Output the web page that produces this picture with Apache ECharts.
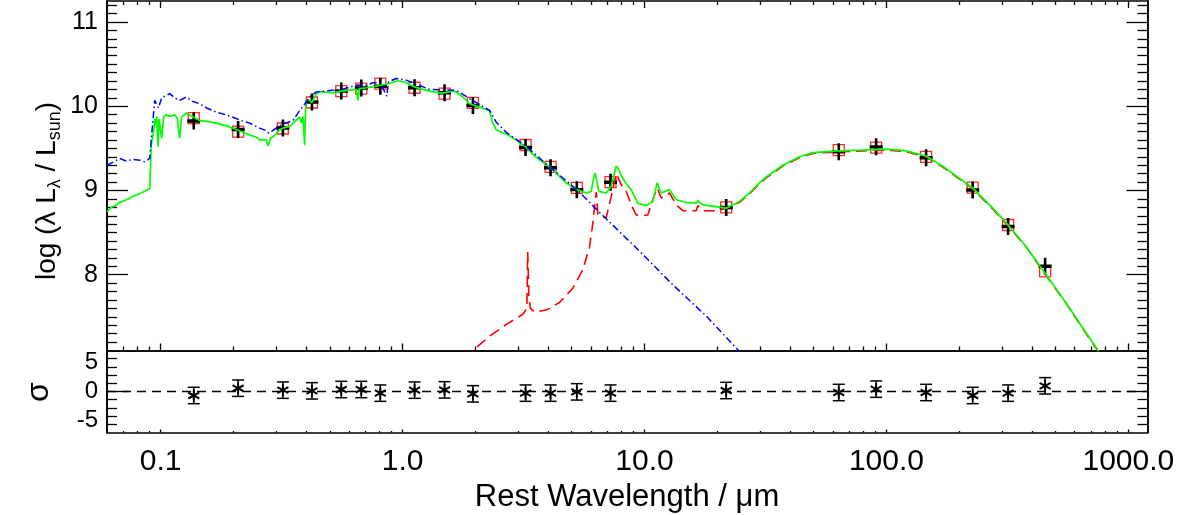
<!DOCTYPE html>
<html><head><meta charset="utf-8">
<script src="https://cdn.jsdelivr.net/npm/echarts@6/dist/echarts.min.js"></script>
<style>html,body{margin:0;padding:0;background:#fff}#c{width:1184px;height:515px}</style>
</head><body><div id="c"></div>
<script>
// ---------- data ----------
const greenLam = [0.060,0.0625,0.065,0.0677,0.071,0.0735,0.0768,0.080,0.083,0.086,0.0901,0.0915,0.0935,0.0945,0.0955,0.0963,0.0974,0.0985,0.1009,0.103,0.1056,0.109,0.1143,0.117,0.1198,0.122,0.1277,0.135,0.1449,0.155,0.1699,0.185,0.199,0.215,0.2332,0.250,0.2565,0.2734,0.2776,0.285,0.295,0.3102,0.3201,0.3412,0.3522,0.365,0.3753,0.382,0.3873,0.3936,0.397,0.400,0.4127,0.4218,0.4398,0.454,0.4685,0.5137,0.558,0.6437,0.6535,0.662,0.7098,0.7538,0.8088,0.8836,0.9418,0.9719,1.036,1.121,1.213,1.293,1.422,1.491,1.614,1.667,1.775,1.892,2.080,2.288,2.361,2.439,2.517,2.683,2.950,3.224,3.512,4.089,4.747,5.251,5.741,6.023,6.115,6.256,6.413,6.475,6.946,7.285,7.640,7.850,8.011,8.401,8.531,8.811,9.383,10.16,10.82,11.28,11.72,12.69,13.52,14.87,16.36,16.61,17.42,21.76,24.70,27.16,29.87,31.84,37.29,43.72,49.61,63.53,79.82,99.7,120.6,145.9,176.5,227.3,275.0,318.4,377.8,457.1,552.7,668.7,746.6,819];
const greenVal = [8.75,8.80,8.82,8.86,8.88,8.90,8.93,8.95,8.97,8.99,9.02,9.55,9.70,9.85,9.78,9.88,9.52,9.85,9.62,9.88,9.90,9.88,9.90,9.86,9.62,9.87,9.92,9.88,9.83,9.82,9.80,9.77,9.74,9.70,9.66,9.63,9.60,9.60,9.53,9.62,9.65,9.72,9.74,9.76,9.80,9.84,9.87,9.80,9.88,9.54,9.95,10.08,10.07,10.04,10.15,10.17,10.17,10.16,10.18,10.20,10.07,10.21,10.22,10.23,10.25,10.27,10.30,10.30,10.28,10.23,10.20,10.18,10.16,10.16,10.18,10.17,10.11,10.03,9.99,9.95,9.80,9.72,9.70,9.67,9.60,9.52,9.41,9.27,9.09,9.01,8.97,8.99,9.10,9.21,9.05,8.99,8.97,9.05,9.29,9.24,9.18,9.08,9.07,9.01,8.85,8.82,8.87,9.09,8.97,9.01,8.89,8.86,8.85,8.88,8.83,8.79,8.87,8.97,9.09,9.16,9.30,9.40,9.45,9.47,9.48,9.49,9.47,9.41,9.26,9.03,8.79,8.59,8.335,8.00,7.665,7.31,7.11,6.9];

const blueLam = [0.060,0.063,0.0677,0.072,0.0768,0.082,0.086,0.0901,0.0915,0.0945,0.0963,0.098,0.1009,0.1056,0.109,0.1143,0.1198,0.1277,0.135,0.1449,0.155,0.1699,0.185,0.199,0.215,0.2332,0.2565,0.2734,0.280,0.3006,0.3201,0.3522,0.3753,0.3999,0.4127,0.4398,0.5137,0.558,0.6437,0.7098,0.7538,0.8088,0.86,0.875,0.9418,1.036,1.293,1.667,1.892,2.288,2.439,2.683,3.224,4.089,5.251,6.516,9.535,13.09,17.99,24.30,26.0];
const blueVal = [9.30,9.33,9.38,9.35,9.37,9.36,9.34,9.38,9.62,10.07,10.09,9.98,10.10,10.13,10.15,10.10,10.07,10.11,10.06,10.03,9.98,9.93,9.90,9.87,9.83,9.80,9.74,9.71,9.68,9.74,9.79,9.83,9.95,10.05,10.11,10.17,10.19,10.20,10.25,10.25,10.28,10.28,10.12,10.29,10.33,10.31,10.20,10.19,10.09,9.95,9.81,9.69,9.53,9.27,9.01,8.74,8.28,7.88,7.51,7.11,7.0];

const redLam = [1.85,1.971,2.288,2.683,3.141,3.264,3.290,3.326,3.375,3.512,3.925,4.455,5.055,5.559,5.925,6.115,6.256,6.32,6.413,6.60,6.946,7.285,7.640,8.011,8.401,8.811,9.241,9.840,10.32,10.82,11.28,11.72,12.69,13.52,14.40,16.36,16.61,17.42,19.78,21.76,24.70,27.16,29.87,31.84,37.29,43.72,49.61,63.53,79.82,99.7,120.6,145.9,176.5,227.3,275.0,318.4,377.8,457.1,552.7,668.7,746.6,819];
const redVal = [6.98,7.11,7.27,7.41,7.53,7.60,8.27,7.75,7.60,7.555,7.58,7.67,7.84,8.06,8.33,8.61,8.89,8.98,8.72,8.69,8.68,8.93,9.20,9.07,8.99,8.83,8.71,8.70,8.71,8.89,9.03,8.91,8.97,8.83,8.76,8.76,8.82,8.76,8.76,8.79,8.86,8.96,9.08,9.15,9.29,9.39,9.44,9.46,9.47,9.48,9.46,9.40,9.25,9.02,8.78,8.58,8.33,7.99,7.66,7.30,7.10,6.9];

const photLam  = [0.137,0.209,0.320,0.422,0.558,0.675,0.809,1.121,1.491,1.953,3.224,4.089,5.251,7.236,21.76,63.53,90.67,145.9,227.3,318.4,452.8];
const obsVal   = [9.826,9.724,9.743,10.05,10.18,10.217,10.237,10.22,10.16,10.01,9.51,9.27,9.01,9.097,8.797,9.459,9.518,9.388,9.006,8.572,8.10];
const modelVal = [9.86,9.70,9.736,10.045,10.18,10.21,10.27,10.22,10.15,10.04,9.54,9.28,9.03,9.10,8.80,9.48,9.51,9.40,9.033,8.59,8.04];
const resid    = [-0.68,0.56,0.23,0.11,0.34,0.34,-0.28,0.23,0.28,-0.40,-0.28,-0.28,-0.06,-0.28,0.17,-0.17,0.40,-0.17,-0.68,-0.28,0.97];
const residErr = [1.4,1.4,1.4,1.4,1.4,1.4,1.4,1.4,1.4,1.4,1.4,1.4,1.4,1.4,1.4,1.4,1.4,1.4,1.4,1.4,1.4];

// ---------- tick labels / tick positions ----------
const xMajor = [0.1, 1, 10, 100, 1000];
const xMinor = [0.07,0.08,0.09,0.2,0.3,0.4,0.5,0.6,0.7,0.8,0.9,2,3,4,5,6,7,8,9,20,30,40,50,60,70,80,90,200,300,400,500,600,700,800,900];
const yTopMajor = [8, 9, 10, 11];
const yTopMinor = [7.2,7.3,7.4,7.5,7.6,7.7,7.8,7.9,8.1,8.2,8.3,8.4,8.5,8.6,8.7,8.8,8.9,9.1,9.2,9.3,9.4,9.5,9.6,9.7,9.8,9.9,10.1,10.2,10.3,10.4,10.5,10.6,10.7,10.8,10.9,11.1,11.2];
const yBotLabels = [-5, 0, 5];
const yBotMajor = [0];
const yBotMinor = [-5.6,-4.2,-2.8,-1.4,1.4,2.8,4.2,5.6];

const FONT = '"Liberation Sans", Arial, Helvetica, sans-serif';
const XMIN = 0.06, XMAX = 1200;

function xAx(grid, pos, ticks, len, showLine, labels) {
  return {
    type: 'log', logBase: 10, gridIndex: grid, position: pos, min: XMIN, max: XMAX,
    axisLine: { show: showLine, onZero: false, lineStyle: { color: '#000', width: 1.6 } },
    axisTick: { show: ticks.length > 0, inside: true, length: len, customValues: ticks.length ? ticks : [1], lineStyle: { color: '#000', width: 1.3 } },
    axisLabel: labels ? { show: true, customValues: xMajor, formatter: v => Number(v).toFixed(1), fontSize: 30, color: '#000', fontFamily: FONT, margin: 14 } : { show: false },
    splitLine: { show: false }, minorTick: { show: false }, minorSplitLine: { show: false }
  };
}
function yAx(grid, pos, min, max, ticks, len, labels, fs) {
  return {
    type: 'value', gridIndex: grid, position: pos, min: min, max: max,
    axisLine: { show: true, onZero: false, lineStyle: { color: '#000', width: 1.6 } },
    axisTick: { show: true, inside: true, length: len, customValues: ticks, lineStyle: { color: '#000', width: 1.3 } },
    axisLabel: labels ? { show: true, customValues: labels, fontSize: fs, color: '#000', fontFamily: FONT, margin: 9 } : { show: false },
    splitLine: { show: false }
  };
}

const chart = echarts.init(document.getElementById('c'), null, { renderer: 'canvas' });
const option = {
  animation: false,
  backgroundColor: '#fff',
  textStyle: { fontFamily: FONT },
  grid: [
    { left: 107, right: 36.5, top: 1, height: 349.5, outerBoundsMode: 'none', containLabel: false },
    { left: 107, right: 36.5, top: 350.5, height: 82, outerBoundsMode: 'none', containLabel: false }
  ],
  xAxis: [
    xAx(0, 'bottom', xMajor, 7, true, false),
    xAx(0, 'bottom', xMinor, 4, false, false),
    xAx(0, 'top', xMajor, 7, true, false),
    xAx(0, 'top', xMinor, 4, false, false),
    xAx(1, 'bottom', xMajor, 3, true, true),
    xAx(1, 'bottom', xMinor, 1.5, false, false),
    xAx(1, 'top', [], 0, true, false)
  ],
  yAxis: [
    yAx(0, 'left', 7.1, 11.25, yTopMajor, 21, yTopMajor, 25),
    yAx(0, 'left', 7.1, 11.25, yTopMinor, 10, null),
    yAx(0, 'right', 7.1, 11.25, yTopMajor, 21, null),
    yAx(0, 'right', 7.1, 11.25, yTopMinor, 10, null),
    yAx(1, 'left', -7, 7, yBotMajor, 21, yBotLabels, 24),
    yAx(1, 'left', -7, 7, yBotMinor, 10, null),
    yAx(1, 'right', -7, 7, yBotMajor, 21, null),
    yAx(1, 'right', -7, 7, yBotMinor, 10, null)
  ],
  series: [
    { type: 'line', name: 'dust', xAxisIndex: 0, yAxisIndex: 0, showSymbol: false, symbol: 'none', clip: true,
      data: redLam.map((l, i) => [l, redVal[i]]),
      lineStyle: { color: '#ff0000', width: 1.6, type: [11, 6] } },
    { type: 'line', name: 'total', xAxisIndex: 0, yAxisIndex: 0, showSymbol: false, symbol: 'none', clip: true,
      data: greenLam.map((l, i) => [l, greenVal[i]]),
      lineStyle: { color: '#00ff00', width: 1.7 } },
    { type: 'line', name: 'stars', xAxisIndex: 0, yAxisIndex: 0, showSymbol: false, symbol: 'none', clip: true,
      data: blueLam.map((l, i) => [l, blueVal[i]]),
      lineStyle: { color: '#0000ff', width: 1.5, type: [7, 3, 1.5, 3] } },
    { type: 'scatter', name: 'model', xAxisIndex: 0, yAxisIndex: 0,
      data: photLam.map((l, i) => [l, modelVal[i]]),
      symbol: 'rect', symbolSize: 11,
      itemStyle: { color: 'transparent', borderColor: '#ff2a2a', borderWidth: 1.3, opacity: 1 } },
    { type: 'scatter', name: 'obs', xAxisIndex: 0, yAxisIndex: 0,
      data: photLam.map((l, i) => [l, obsVal[i]]),
      symbol: 'path://M0,8 L16,8 M8,0 L8,16', symbolSize: [13, 17],
      itemStyle: { color: 'transparent', borderColor: '#000', borderWidth: 3, opacity: 1 } },
    { type: 'custom', name: 'err', xAxisIndex: 4, yAxisIndex: 4,
      data: photLam.map((l, i) => [l, resid[i], residErr[i]]),
      encode: { x: 0, y: 1 },
      renderItem: function (params, api) {
        const x = api.value(0), y = api.value(1), e = api.value(2);
        const p1 = api.coord([x, y + e]), p2 = api.coord([x, y - e]);
        const w = 6, st = { stroke: '#000', lineWidth: 1.5, fill: null };
        return { type: 'group', children: [
          { type: 'line', shape: { x1: p1[0], y1: p1[1], x2: p2[0], y2: p2[1] }, style: st },
          { type: 'line', shape: { x1: p1[0] - w, y1: p1[1], x2: p1[0] + w, y2: p1[1] }, style: st },
          { type: 'line', shape: { x1: p2[0] - w, y1: p2[1], x2: p2[0] + w, y2: p2[1] }, style: st }
        ] };
      },
      markLine: { silent: true, symbol: 'none', label: { show: false },
        lineStyle: { color: '#000', width: 1.3, type: [9, 6] },
        data: [{ yAxis: 0 }] } },
    { type: 'scatter', name: 'resid', xAxisIndex: 4, yAxisIndex: 4,
      data: photLam.map((l, i) => [l, resid[i]]),
      symbol: 'path://M5,0 L5,10 M0.67,2.5 L9.33,7.5 M0.67,7.5 L9.33,2.5', symbolSize: [11, 12],
      itemStyle: { color: 'transparent', borderColor: '#000', borderWidth: 2, opacity: 1 } }
  ],
  graphic: [
    { type: 'text', x: 47, y: 191, rotation: Math.PI / 2,
      style: { text: 'log (λ L{s|λ} / L{s|sun})', fill: '#000', font: '28px ' + FONT, align: 'center', verticalAlign: 'middle', lineHeight: 34,
        rich: { s: { fontSize: 18, fontFamily: FONT, verticalAlign: 'bottom', lineHeight: 18, fill: '#000' } } } },
    { type: 'text', x: 39, y: 392, rotation: Math.PI / 2,
      style: { text: 'σ', fill: '#000', font: '32px ' + FONT, align: 'center', verticalAlign: 'middle' } },
    { type: 'text', x: 627, y: 497,
      style: { text: 'Rest Wavelength / μm', fill: '#000', font: '31px ' + FONT, align: 'center', verticalAlign: 'middle' } }
  ]
};
chart.setOption(option);
</script>
</body></html>
